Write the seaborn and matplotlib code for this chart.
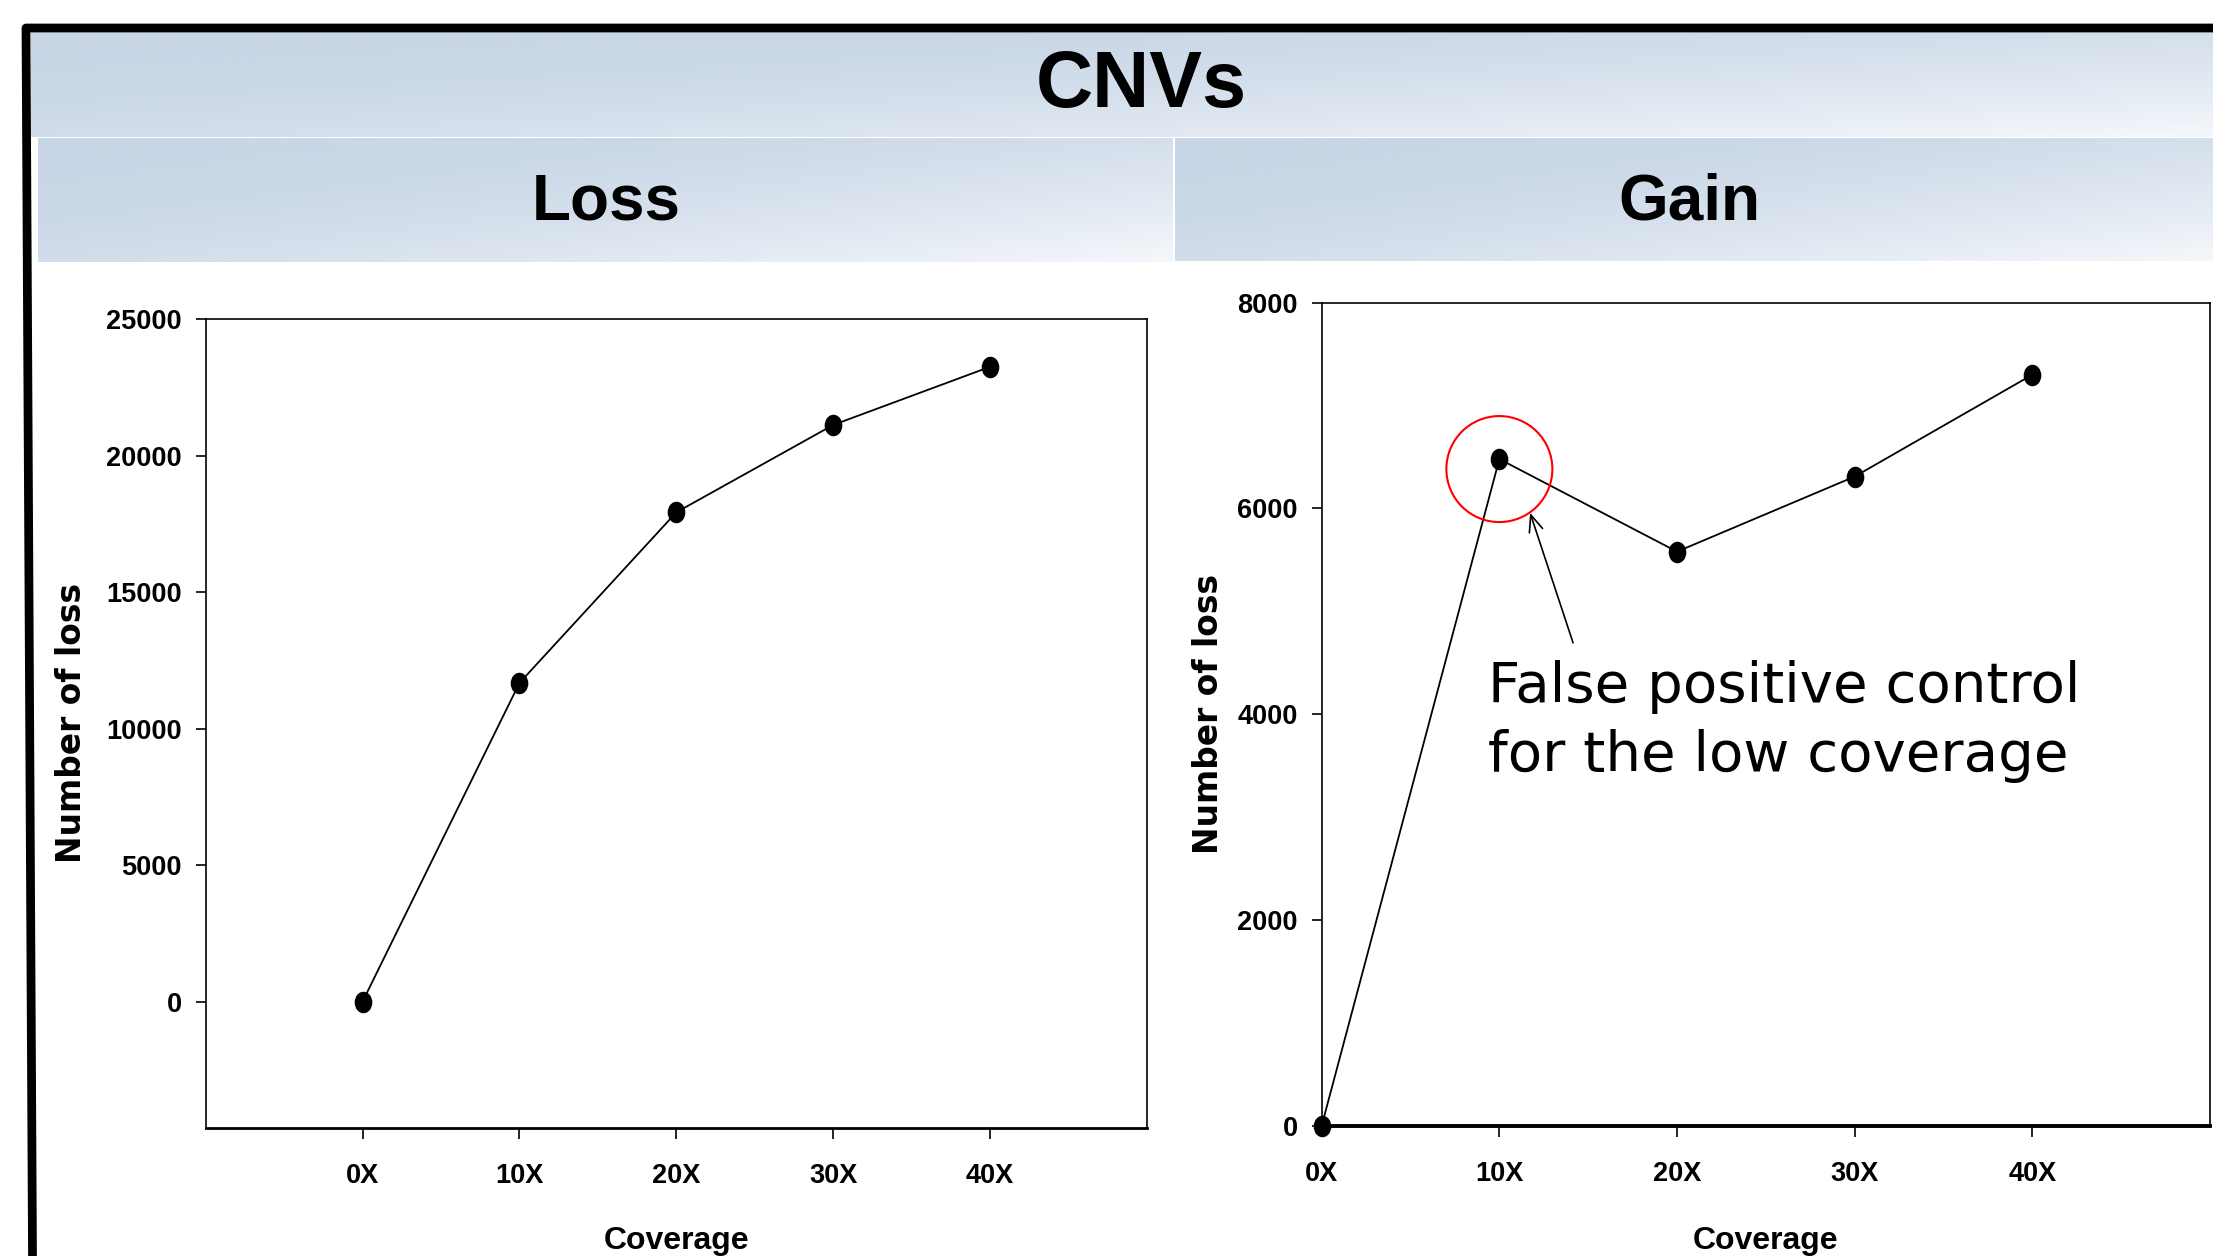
import numpy as np
import pandas as pd
import matplotlib
matplotlib.use("Agg")
import matplotlib.pyplot as plt
import matplotlib.path as mpath
from matplotlib.patches import Circle
from matplotlib.lines import Line2D
from matplotlib.transforms import ScaledTranslation
import seaborn as sns

# ---- data -------------------------------------------------------------
coverage = [0, 10, 20, 30, 40]
coverage_labels = ["0X", "10X", "20X", "30X", "40X"]
loss_counts = [0, 11670, 17920, 21120, 23250]
gain_counts = [0, 6480, 5580, 6310, 7300]
loss_ticks = [0, 5000, 10000, 15000, 20000, 25000]
gain_ticks = [0, 2000, 4000, 6000, 8000]

# ---- figure setup -------------------------------------------------------
W, H, DPI = 2213, 1256, 100
sns.set_style("ticks")
plt.rcParams["font.family"] = ["Liberation Sans", "DejaVu Sans"]
for key in ("axes.edgecolor", "xtick.color", "ytick.color", "text.color",
            "axes.labelcolor", "xtick.labelcolor", "ytick.labelcolor"):
    plt.rcParams[key] = "black"

fig = plt.figure(figsize=(W / DPI, H / DPI), dpi=DPI)
fig.patch.set_facecolor("white")


def fx(px):
    return px / W


def fy(py):
    return 1 - py / H


# ---- slide header bands with a soft diagonal gradient --------------------
def header_band(x0, y0, x1, y1):
    bax = fig.add_axes([fx(x0), fy(y1), fx(x1) - fx(x0), fy(y0) - fy(y1)])
    u = np.linspace(0, 1, 500)[None, :]
    v = np.linspace(0, 1, 80)[:, None]
    t = np.clip(0.62 * u + 0.55 * v - 0.2, 0, 1) ** 1.5
    c0 = np.array([200, 214, 230]) / 255
    c1 = np.array([247, 249, 252]) / 255
    img = c0 + (c1 - c0) * t[..., None]
    bax.imshow(img, aspect="auto", interpolation="bilinear")
    bax.set_axis_off()
    return bax


header_band(31, 32, 2213, 137)
header_band(38, 138, 1173, 262)
header_band(1175, 138, 2213, 261)

fig.text(fx(1141), fy(107), "CNVs", ha="center", va="baseline",
         fontsize=57, fontweight="bold")
fig.text(fx(606), fy(220), "Loss", ha="center", va="baseline",
         fontsize=46, fontweight="bold")
fig.text(fx(1689), fy(220), "Gain", ha="center", va="baseline",
         fontsize=46, fontweight="bold")

# slide frame (left and top rules)
fig.add_artist(Line2D([fx(32.5), fx(26), fx(2213)], [fy(1256), fy(28), fy(28)],
                      transform=fig.transFigure, color="black", lw=6.3,
                      solid_joinstyle="round", solid_capstyle="butt"))

# ---- the two panels -----------------------------------------------------
axL = fig.add_axes([fx(205.7), fy(1127.7), fx(1147) - fx(205.7),
                    fy(319) - fy(1127.7)])
axR = fig.add_axes([fx(1321.7), fy(1125.7), fx(2210) - fx(1321.7),
                    fy(302.7) - fy(1125.7)])

circ = mpath.Path.unit_circle()
dot = mpath.Path(circ.vertices * np.array([0.82, 1.0]), circ.codes)

df_loss = pd.DataFrame({"Coverage": coverage, "Number of loss": loss_counts})
df_gain = pd.DataFrame({"Coverage": coverage, "Number of loss": gain_counts})

line_kw = dict(color="black", linewidth=1.3, marker=dot, markersize=15.5,
               markeredgecolor="black", markeredgewidth=0, clip_on=False,
               zorder=5)
sns.lineplot(data=df_loss, x="Coverage", y="Number of loss", ax=axL, **line_kw)
sns.lineplot(data=df_gain, x="Coverage", y="Number of loss", ax=axR, **line_kw)

panels = [
    (axL, (-10, 50), (-4620, 25000), loss_ticks, 2.0, -0.1252, -0.1215),
    (axR, (0, 50), (0, 8000), gain_ticks, 2.8, -0.1089, -0.1218),
]
for ax, xl, yl, yt, bottom_w, ylab_x, xlab_y in panels:
    ax.set_xlim(*xl)
    ax.set_ylim(*yl)
    ax.set_xticks(coverage, coverage_labels)
    ax.set_yticks(yt, [str(v) for v in yt])
    for sp in ax.spines.values():
        sp.set_visible(True)
        sp.set_linewidth(1.2)
        sp.set_color("black")
    ax.spines["bottom"].set_linewidth(bottom_w)
    ax.tick_params(axis="y", direction="out", length=7.2, width=1.2, pad=10)
    ax.tick_params(axis="x", direction="out", length=8, width=1.2, pad=17.5)
    for lab in ax.get_xticklabels() + ax.get_yticklabels():
        lab.set_fontsize(19.5)
        lab.set_fontweight("bold")
    ax.set_ylabel("Number of loss", fontfamily=["DejaVu Sans"],
                  fontweight="bold", fontsize=23.7)
    ax.yaxis.set_label_coords(ylab_x, 0.5)
    ax.set_xlabel("Coverage", fontsize=23, fontweight="bold")
    ax.xaxis.set_label_coords(0.5, xlab_y)
    ax.set_facecolor("white")

# ---- callout on the 10X gain point -------------------------------------
anchor = ScaledTranslation(coverage[1], gain_counts[1], axR.transData)
fig.add_artist(Circle((0, -10 / DPI), radius=53 / DPI,
                      transform=fig.dpi_scale_trans + anchor,
                      fill=False, edgecolor="#ff0000", linewidth=1.5,
                      zorder=6))

tip = axR.transData + ScaledTranslation(30.7 / DPI, -53.7 / DPI,
                                        fig.dpi_scale_trans)
axR.annotate("", xy=(coverage[1], gain_counts[1]), xycoords=tip,
             xytext=(43 * 0.72, -130 * 0.72), textcoords="offset points",
             arrowprops=dict(arrowstyle="->,head_length=0.6,head_width=0.25",
                             color="black", lw=1.2, shrinkA=0, shrinkB=0,
                             mutation_scale=20),
             annotation_clip=False)

# baseline alignment below refers to the last line of the text
axR.annotate("False positive control\nfor the low coverage",
             xy=(coverage[1], gain_counts[1]),
             xytext=(-11.8 * 0.72, -312.4 * 0.72), textcoords="offset points",
             ha="left", va="baseline", fontsize=40.5,
             fontfamily=["DejaVu Sans"], linespacing=1.37,
             annotation_clip=False)

fig.savefig("out.png", dpi=DPI)
